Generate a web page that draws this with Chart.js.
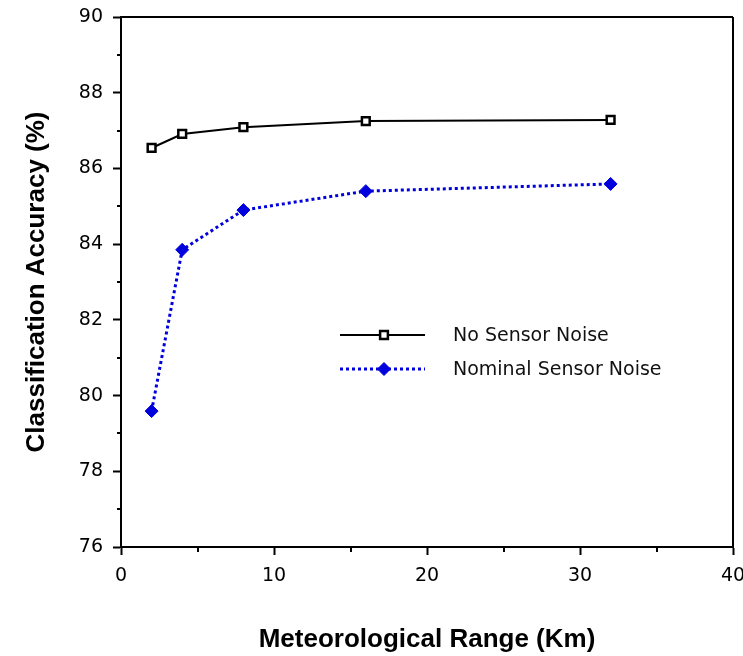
<!DOCTYPE html>
<html>
<head>
<meta charset="utf-8">
<script src="https://cdn.jsdelivr.net/npm/chart.js@4/dist/chart.umd.min.js"></script>
<style>
  body { margin: 0; background: #fff; }
  canvas { display: block; }
</style>
</head>
<body>
<canvas id="chart" width="743" height="656"></canvas>
<script>
(function() {
  'use strict';

  // ── Data ──
  var ranges = [2, 4, 8, 16, 32];
  var noNoise = [86.54, 86.91, 87.09, 87.25, 87.28];
  var nominalNoise = [79.59, 83.85, 84.90, 85.40, 85.59];
  var seriesNames = ['No Sensor Noise', 'Nominal Sensor Noise'];
  var yMinorTicks = [77, 79, 81, 83, 85, 87, 89];
  var xMinorTicks = [5, 15, 25, 35];

  var BLUE = '#0000dd';
  var tickFont = { family: '"DejaVu Sans", Verdana, sans-serif', size: 19 };
  var titleFont = { family: '"Liberation Sans", Arial, sans-serif', size: 26, weight: 'bold' };

  function points(ys) {
    return ranges.map(function(x, i) { return { x: x, y: ys[i] }; });
  }

  // ── Frame, minor ticks, legend ──
  var decorPlugin = {
    id: 'decor',
    afterDraw: function(chart) {
      var ctx = chart.ctx, a = chart.chartArea;
      var xs = chart.scales.x, ys = chart.scales.y;
      ctx.save();
      ctx.strokeStyle = '#000';
      ctx.lineWidth = 2;
      ctx.beginPath();
      ctx.moveTo(a.left, a.top); ctx.lineTo(a.right, a.top);
      ctx.moveTo(a.right, a.top); ctx.lineTo(a.right, a.bottom);
      yMinorTicks.forEach(function(v) {
        var py = Math.round(ys.getPixelForValue(v));
        ctx.moveTo(a.left - 4, py); ctx.lineTo(a.left, py);
      });
      xMinorTicks.forEach(function(v) {
        var px = Math.round(xs.getPixelForValue(v));
        ctx.moveTo(px, a.bottom); ctx.lineTo(px, a.bottom + 5);
      });
      ctx.stroke();

      // legend inside plot
      var lx1 = 340, lx2 = 425, mx = 384, tx = 453;
      var rows = [335, 369];
      chart.data.datasets.forEach(function(ds, i) {
        var y = rows[i];
        ctx.beginPath();
        ctx.strokeStyle = ds.borderColor;
        ctx.lineWidth = ds.borderWidth;
        ctx.setLineDash(ds.borderDash || []);
        ctx.moveTo(lx1, y); ctx.lineTo(lx2, y);
        ctx.stroke();
        ctx.setLineDash([]);
        ctx.fillStyle = ds.pointBackgroundColor;
        ctx.strokeStyle = ds.pointBorderColor;
        ctx.lineWidth = ds.pointBorderWidth;
        Chart.helpers.drawPoint(ctx, { pointStyle: ds.pointStyle, radius: ds.pointRadius, rotation: 0, borderWidth: ds.pointBorderWidth }, mx, y);
        ctx.fillStyle = '#111';
        ctx.font = '19px "DejaVu Sans", Verdana, sans-serif';
        ctx.textBaseline = 'middle';
        ctx.textAlign = 'left';
        ctx.fillText(ds.label, tx, y + 1);
      });
      ctx.restore();
    }
  };

  new Chart(document.getElementById('chart'), {
    type: 'line',
    data: {
      datasets: [
        {
          label: seriesNames[0],
          data: points(noNoise),
          borderColor: '#000',
          borderWidth: 2,
          pointStyle: 'rect',
          pointRadius: 5.5,
          pointBorderWidth: 2.5,
          pointBackgroundColor: '#fff',
          pointBorderColor: '#000',
          tension: 0
        },
        {
          label: seriesNames[1],
          data: points(nominalNoise),
          borderColor: BLUE,
          borderWidth: 3,
          borderDash: [3, 3],
          pointStyle: 'rectRot',
          pointRadius: 6.5,
          pointBorderWidth: 1,
          pointBackgroundColor: BLUE,
          pointBorderColor: BLUE,
          tension: 0
        }
      ]
    },
    options: {
      responsive: false,
      animation: false,
      layout: { padding: { left: 21, right: 10, top: 17, bottom: 1 } },
      plugins: { legend: { display: false }, tooltip: { enabled: false } },
      scales: {
        x: {
          type: 'linear',
          min: 0, max: 40,
          ticks: { stepSize: 10, color: '#000', font: tickFont, padding: 10, maxRotation: 0 },
          grid: { drawOnChartArea: false, tickLength: 8, tickWidth: 2, tickColor: '#000' },
          border: { color: '#000', width: 2 },
          title: { display: true, text: 'Meteorological Range (Km)', color: '#000', font: titleFont, padding: 0 },
          afterFit: function(s) { s.height = 108; s.paddingLeft = 0; s.paddingRight = 0; }
        },
        y: {
          min: 76, max: 90,
          ticks: { stepSize: 2, color: '#000', font: tickFont, padding: 10 },
          grid: { drawOnChartArea: false, tickLength: 8, tickWidth: 2, tickColor: '#000' },
          border: { color: '#000', width: 2 },
          title: { display: true, text: 'Classification Accuracy (%)', color: '#000', font: titleFont, padding: 0 },
          afterFit: function(s) { s.width = 100; s.paddingTop = 0; s.paddingBottom = 0; }
        }
      }
    },
    plugins: [decorPlugin]
  });
})();
</script>
</body>
</html>
